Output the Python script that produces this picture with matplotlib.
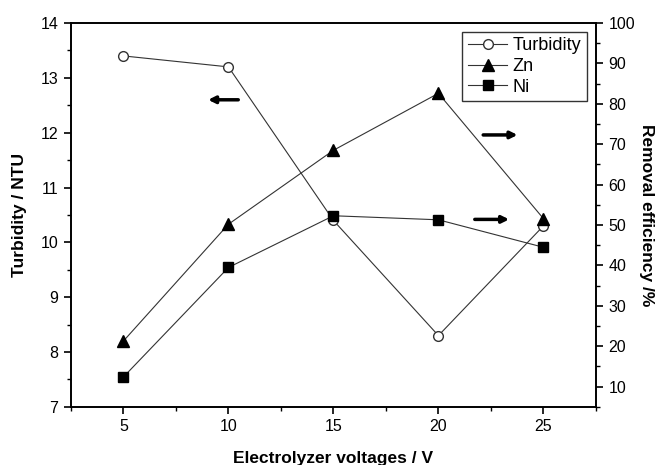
import matplotlib
matplotlib.use("Agg")
import matplotlib.pyplot as plt
import matplotlib.ticker as mtick

plt.rcParams['font.family'] = ['Liberation Sans', 'DejaVu Sans']

voltages = [5, 10, 15, 20, 25]
turbidity = [13.4, 13.2, 10.4, 8.3, 10.3]
zn_removal = [21.3, 50.2, 68.5, 82.6, 51.6]
ni_removal = [12.4, 39.5, 52.3, 51.3, 44.5]

fig = plt.figure(figsize=(6.57, 4.65), dpi=100)
ax = fig.add_axes([0.108, 0.125, 0.799, 0.8255])
ax2 = ax.twinx()

h1, = ax.plot(voltages, turbidity, marker="o", markerfacecolor="white",
              markeredgecolor="#333333", markersize=7, color="#333333",
              linewidth=0.8, label="Turbidity")
h2, = ax2.plot(voltages, zn_removal, marker="^", markerfacecolor="black",
               markeredgecolor="black", markersize=8, color="#333333",
               linewidth=0.8, label="Zn")
h3, = ax2.plot(voltages, ni_removal, marker="s", markerfacecolor="black",
               markeredgecolor="black", markersize=6.5, color="#333333",
               linewidth=0.8, label="Ni")

ax.set_xlim(2.5, 27.5)
ax.set_ylim(7, 14)
ax2.set_ylim(5, 100)

ax.xaxis.set_major_locator(mtick.FixedLocator(voltages))
ax.xaxis.set_minor_locator(mtick.MultipleLocator(2.5))
ax.yaxis.set_major_locator(mtick.MultipleLocator(1))
ax.yaxis.set_minor_locator(mtick.MultipleLocator(0.5))
ax2.yaxis.set_major_locator(mtick.FixedLocator(range(10, 101, 10)))
ax2.yaxis.set_minor_locator(mtick.MultipleLocator(5))

for a in (ax, ax2):
    a.tick_params(which="major", direction="out", length=5, width=1.2,
                  labelsize=11.5, pad=4)
    a.tick_params(which="minor", direction="out", length=3, width=1.0)
    for s in a.spines.values():
        s.set_linewidth(1.2)

ax.set_xlabel("Electrolyzer voltages / V", fontsize=12.5, fontweight="bold",
              labelpad=12)
ax.set_ylabel("Turbidity / NTU", fontsize=12.5, fontweight="bold",
              labelpad=10)
ax2.set_ylabel("Removal efficiency /%", fontsize=12.5, fontweight="bold",
               rotation=270, labelpad=14)

# arrows pointing at each axis
arrow = dict(arrowstyle="-|>", color="black", lw=2.5, mutation_scale=10)
ax.annotate("", xy=(8.9, 12.6), xytext=(10.6, 12.6), arrowprops=arrow)
ax2.annotate("", xy=(23.9, 72.3), xytext=(22.0, 72.3), arrowprops=arrow)
ax2.annotate("", xy=(23.5, 51.4), xytext=(21.6, 51.4), arrowprops=arrow)

leg = ax2.legend(handles=[h1, h2, h3], loc="upper right", fontsize=13,
                 frameon=True, fancybox=False, edgecolor="black",
                 borderaxespad=0.5, borderpad=0.3, handlelength=2.2,
                 handletextpad=0.3, labelspacing=0.2)
leg.get_frame().set_linewidth(1.0)

fig.savefig("out.png", dpi=100)
